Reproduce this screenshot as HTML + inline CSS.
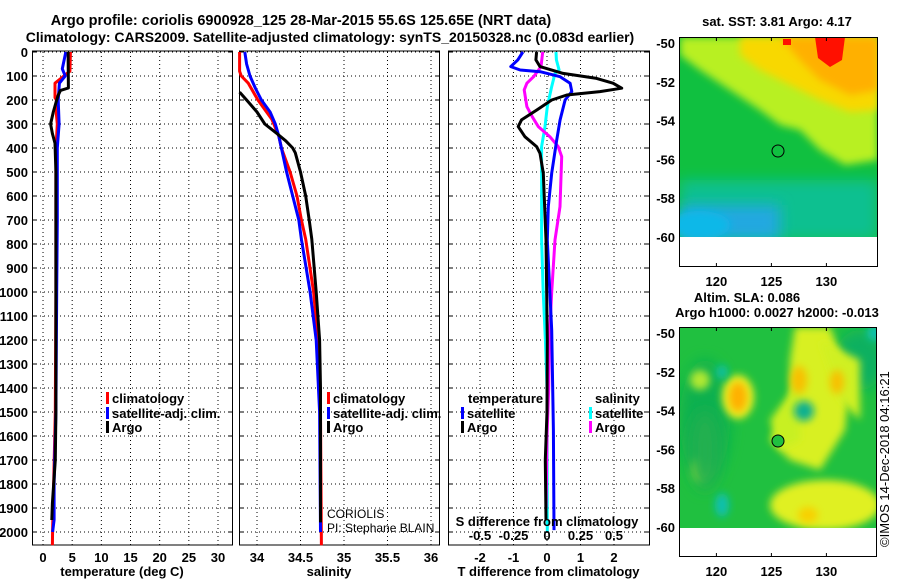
<!DOCTYPE html>
<html><head><meta charset="utf-8"><style>
body{margin:0;background:#fff}
svg{display:block;font-family:"Liberation Sans",Arial,sans-serif}
.b{font-weight:bold;font-size:13px}
</style></head><body>
<svg id="fig" width="900" height="580" viewBox="0 0 900 580" xmlns="http://www.w3.org/2000/svg">
<defs>
<filter id="bl" x="-50%" y="-50%" width="200%" height="200%"><feGaussianBlur stdDeviation="7"/></filter>
<filter id="bl2" x="-50%" y="-50%" width="200%" height="200%"><feGaussianBlur stdDeviation="4"/></filter>
<clipPath id="c1"><rect x="680" y="37" width="198" height="200"/></clipPath>
<clipPath id="c2"><rect x="680" y="327" width="197" height="201"/></clipPath>
</defs>
<text x="301" y="25" text-anchor="middle" style="font-weight:bold;font-size:14.5px">Argo profile: coriolis 6900928_125 28-Mar-2015 55.6S 125.65E (NRT data)</text>
<text x="330" y="42" text-anchor="middle" style="font-weight:bold;font-size:14px">Climatology: CARS2009. Satellite-adjusted climatology: synTS_20150328.nc (0.083d earlier)</text>
<g id="plots"></g>

<!-- Top map -->
<g>
<g clip-path="url(#c1)">
<rect x="680" y="37" width="198" height="200" fill="#10c040"/>
<rect x="680" y="180" width="198" height="60" fill="#10c090" filter="url(#bl)"/>
<rect x="680" y="205" width="100" height="35" fill="#20a8e0" filter="url(#bl)"/>
<ellipse cx="700" cy="225" rx="30" ry="14" fill="#10b8e8" filter="url(#bl2)"/>
<path d="M680 37 H878 V160 L845 165 L820 150 L800 130 L780 125 L760 110 L730 90 L700 70 L680 55 Z" fill="#b8f020" filter="url(#bl2)"/>
<path d="M740 37 H878 V110 L850 112 L820 100 L790 85 L760 70 L740 55 Z" fill="#f8d800" filter="url(#bl2)"/>
<path d="M780 37 H878 V90 L850 95 L820 80 L800 60 Z" fill="#ffb000" filter="url(#bl2)"/>
<path d="M815 37 H845 L842 60 L830 67 L818 58 Z" fill="#ff1000"/>
<rect x="783" y="39" width="8" height="6" fill="#ff1000"/>
</g>
<circle cx="778" cy="151" r="6" fill="none" stroke="#000" stroke-width="1"/>
<rect x="679.5" y="37.5" width="198" height="229" fill="none" stroke="#000"/>
<text x="777" y="26" text-anchor="middle" class="b">sat. SST: 3.81 Argo: 4.17</text>
<g id="m1ax"></g>
</g>

<!-- Bottom map -->
<g>
<g clip-path="url(#c2)">
<rect x="680" y="327" width="197" height="201" fill="#20c040"/>
<ellipse cx="705" cy="420" rx="25" ry="60" fill="#10b050" filter="url(#bl)"/>
<ellipse cx="860" cy="360" rx="25" ry="30" fill="#10b060" filter="url(#bl)"/>
<path d="M795 327 L830 327 L850 380 L845 430 L820 470 L790 460 L770 440 L790 400 L790 360 Z" fill="#d8f020" filter="url(#bl2)"/>
<path d="M770 420 L800 380 L800 440 L780 450 Z" fill="#c8f020" filter="url(#bl2)"/>
<path d="M820 340 L860 360 L860 420 L840 400 Z" fill="#d0f020" filter="url(#bl2)"/>
<ellipse cx="825" cy="505" rx="55" ry="25" fill="#e0f020" filter="url(#bl2)"/>
<ellipse cx="700" cy="380" rx="10" ry="10" fill="#b0e830" filter="url(#bl2)"/>
<ellipse cx="700" cy="470" rx="8" ry="12" fill="#a0e030" filter="url(#bl2)"/>
<ellipse cx="738" cy="397" rx="16" ry="22" fill="#e8f020" filter="url(#bl2)"/>
<ellipse cx="738" cy="397" rx="9" ry="15" fill="#ffb000" filter="url(#bl2)"/>
<ellipse cx="799" cy="380" rx="8" ry="14" fill="#f8c000" filter="url(#bl2)"/>
<ellipse cx="837" cy="382" rx="7" ry="12" fill="#f8c000" filter="url(#bl2)"/>
<ellipse cx="808" cy="515" rx="10" ry="8" fill="#f8d000" filter="url(#bl2)"/>
<ellipse cx="722" cy="372" rx="6" ry="7" fill="#10c0a0" filter="url(#bl2)"/>
<ellipse cx="804" cy="411" rx="10" ry="10" fill="#10b090" filter="url(#bl2)"/>
<ellipse cx="722" cy="505" rx="7" ry="12" fill="#10c0b0" filter="url(#bl2)"/>
<ellipse cx="875" cy="333" rx="8" ry="8" fill="#10c0b0" filter="url(#bl2)"/>
<ellipse cx="705" cy="450" rx="15" ry="40" fill="#20b050" filter="url(#bl)"/>
</g>
<circle cx="778" cy="441" r="6" fill="#20c040" stroke="#000" stroke-width="1"/>
<rect x="679.5" y="327.5" width="197" height="229" fill="none" stroke="#000"/>
<text x="747" y="302" text-anchor="middle" class="b">Altim. SLA: 0.086</text>
<text x="777" y="317" text-anchor="middle" class="b">Argo h1000: 0.0027 h2000: -0.013</text>
<g id="m2ax"></g>
</g>
<text transform="translate(889,547) rotate(-90)" style="font-size:13px">©IMOS 14-Dec-2018 04:16:21</text>
</svg>
<script>
const depthTicks=[0,100,200,300,400,500,600,700,800,900,1000,1100,1200,1300,1400,1500,1600,1700,1800,1900,2000];
const tempTicks=[0,5,10,15,20,25,30];
const salTicks=[34,34.5,35,35.5,36];
const tdiffTicks=[-2,-1,0,1,2];
const sdiffTicks=[-0.5,-0.25,0,0.25,0.5];
// Temperature profiles
const tClimDepth=[0,80,130,190,200,260,300,370,500,1000,1500,1990,2055];
const tClimVal=[4.7,4.6,2.06,2.06,2.3,2.3,2.45,2.3,2.2,2.2,2.1,1.65,1.6];
const tSatDepth=[0,70,100,130,200,300,400,700,1000,1500,1800,1950,2000];
const tSatVal=[3.9,3.3,3.8,2.8,2.6,2.75,2.45,2.45,2.35,2.2,1.9,1.9,1.65];
const tArgoDepth=[0,150,160,180,200,250,300,340,380,500,1000,1500,1700,1880,1950];
const tArgoVal=[4.3,4.35,3.0,2.6,2.35,1.77,1.3,1.6,2.05,2.2,2.2,2.2,2.1,1.6,1.5];
// Salinity profiles
const sClimDepth=[0,80,100,130,200,280,350,400,500,600,700,780,1000,1200,1500,2055];
const sClimVal=[33.8,33.8,33.82,33.9,34.01,34.17,34.25,34.28,34.38,34.46,34.51,34.56,34.65,34.7,34.73,34.74];
const sSatDepth=[0,50,100,150,200,250,300,350,400,500,600,700,780,1000,1200,1500,2000];
const sSatVal=[33.86,33.88,33.92,33.98,34.05,34.15,34.21,34.25,34.28,34.34,34.41,34.48,34.51,34.61,34.68,34.72,34.73];
const sArgoDepth=[167,200,250,300,340,370,400,420,500,600,700,780,1000,1200,1400,1960];
const sArgoVal=[33.8,33.88,34.0,34.09,34.23,34.33,34.41,34.44,34.5,34.56,34.6,34.63,34.68,34.72,34.73,34.73];
// Differences
const dTSatDepth=[0,33,61,75,82,103,130,165,200,283,367,505,644,783,1158,1575,1992];
const dTSatVal=[-0.72,-0.87,-1.08,-0.8,-0.2,0.39,0.69,0.74,0.54,0.39,0.29,0.14,0.04,0.01,0.14,0.19,0.21];
const dTArgoDepth=[0,33,61,89,110,130,151,165,179,200,242,283,311,353,394,422,505,783,1200,1500,1700,1950];
const dTArgoVal=[-0.31,-0.33,-0.21,0.48,1.48,1.97,2.23,1.58,0.59,0.14,-0.31,-0.76,-0.86,-0.66,-0.31,-0.21,-0.11,-0.03,0.01,0,-0.05,-0.03];
const dSSatDepth=[0,33,75,89,144,228,311,394,505,783,1000,1200,1400,2000];
const dSSatVal=[0.067,0.07,0.09,0.06,0.035,0.002,-0.015,-0.04,-0.04,-0.04,-0.028,-0.012,0,0.002];
const dSArgoDepth=[0,61,103,130,158,228,270,311,353,394,436,644,783,1000,1200,1400,1600,1900];
const dSArgoVal=[-0.032,-0.045,-0.1,-0.15,-0.17,-0.15,-0.11,-0.065,0.022,0.084,0.11,0.097,0.06,0.035,0.017,0.013,0,-0.007];
const latTicks=[-50,-52,-54,-56,-58,-60];
const lonTicks=[120,125,130];

const NS='http://www.w3.org/2000/svg';
const root=document.getElementById('plots');
function mk(tag,attrs,parent){const e=document.createElementNS(NS,tag);for(const k in attrs)e.setAttribute(k,attrs[k]);(parent||root).appendChild(e);return e;}
const yD=d=>52+d*0.24;
const TOP=52,BOT=545;
const panels=[
 {x0:32,x1:232,vmin:-1.89,vmax:32.4,ticks:tempTicks,label:'temperature (deg C)',name:'temperature-panel'},
 {x0:239,x1:439,vmin:33.793,vmax:36.092,ticks:salTicks,label:'salinity',name:'salinity-panel'},
 {x0:448,x1:649,vmin:-2.955,vmax:3.045,ticks:tdiffTicks,label:'T difference from climatology',name:'difference-panel'}
];
panels.forEach(p=>{p.sx=v=>p.x0+(v-p.vmin)/(p.vmax-p.vmin)*(p.x1-p.x0);});
panels.forEach((p,i)=>{
 const g=mk('g',{});
 
 
 depthTicks.forEach(d=>{
  const l=mk('line',{x1:p.x0,x2:p.x1,y1:yD(d),y2:yD(d),stroke:'#000','stroke-dasharray':'1,3'},g);
  
  
  mk('line',{x1:p.x0,x2:p.x0+4,y1:yD(d),y2:yD(d),stroke:'#000'},g);
  mk('line',{x1:p.x1-4,x2:p.x1,y1:yD(d),y2:yD(d),stroke:'#000'},g);
 });
 p.ticks.forEach(v=>{
  const x=p.sx(v);
  const l=mk('line',{x1:x,x2:x,y1:TOP,y2:BOT,stroke:'#000','stroke-dasharray':'1,3'},g);
  
  
  const t=mk('text',{x:x,y:562,'text-anchor':'middle',class:'b'},g);
  t.textContent=String(v);
  
  
 });
 mk('rect',{x:p.x0+0.5,y:TOP-1,width:p.x1-p.x0,height:BOT-TOP+1,fill:'none',stroke:'#000'},g);
 const xl=mk('text',{x:(p.x0+p.x1)/2+(i==2?0:-10),y:576,'text-anchor':'middle',class:'b'},g);
 xl.textContent=p.label;
 
 
});
depthTicks.forEach(d=>{
 const t=mk('text',{x:28,y:yD(d)+5,'text-anchor':'end',class:'b'});
 t.textContent=String(d);
 
 
});
function line(p,depths,vals,color,name,scale){
 const pts=depths.map((d,i)=>p.sx(vals[i]*(scale||1)).toFixed(1)+','+yD(d).toFixed(1)).join(' ');
 const e=mk('polyline',{points:pts,fill:'none',stroke:color,'stroke-width':3,'stroke-linejoin':'round'});
 
 
}
line(panels[0],tClimDepth,tClimVal,'#ff0000','temp-climatology-line');
line(panels[0],tSatDepth,tSatVal,'#0000ff','temp-satellite-line');
line(panels[0],tArgoDepth,tArgoVal,'#000000','temp-argo-line');
line(panels[1],sClimDepth,sClimVal,'#ff0000','sal-climatology-line');
line(panels[1],sSatDepth,sSatVal,'#0000ff','sal-satellite-line');
line(panels[1],sArgoDepth,sArgoVal,'#000000','sal-argo-line');
line(panels[2],dSSatDepth,dSSatVal,'#00ffff','sdiff-satellite-line',4);
line(panels[2],dSArgoDepth,dSArgoVal,'#ff00ff','sdiff-argo-line',4);
line(panels[2],dTSatDepth,dTSatVal,'#0000ff','tdiff-satellite-line');
line(panels[2],dTArgoDepth,dTArgoVal,'#000000','tdiff-argo-line');
sdiffTicks.forEach(v=>{
 const t=mk('text',{x:panels[2].sx(v*4),y:540,'text-anchor':'middle',class:'b'});
 t.textContent=String(v);
 
 
});
const st=mk('text',{x:547,y:526,'text-anchor':'middle',class:'b'});
st.textContent='S difference from climatology';


function leg(x,y,color,label,name){
 const g=mk('g',{});
 
 
 mk('rect',{x:x,y:y-6,width:3,height:12,fill:color},g);
 const t=mk('text',{x:x+6,y:y+5,class:'b'},g);t.textContent=label;
}
leg(106,398,'#ff0000','climatology','legend-climatology');
leg(106,413,'#0000ff','satellite-adj. clim.','legend-satellite-adj');
leg(106,427,'#000','Argo','legend-argo');
leg(327,398,'#ff0000','climatology','legend-climatology');
leg(327,413,'#0000ff','satellite-adj. clim.','legend-satellite-adj');
leg(327,427,'#000','Argo','legend-argo');
const th=mk('text',{x:468,y:403,class:'b'});th.textContent='temperature';


const sh=mk('text',{x:595,y:403,class:'b'});sh.textContent='salinity';


leg(461,413,'#0000ff','satellite','legend-t-satellite');
leg(461,427,'#000','Argo','legend-t-argo');
leg(589,413,'#00ffff','satellite','legend-s-satellite');
leg(589,427,'#ff00ff','Argo','legend-s-argo');
const c1=mk('text',{x:327,y:518,style:'font-size:12px'});c1.textContent='CORIOLIS';


const c2=mk('text',{x:327,y:532,style:'font-size:12px'});c2.textContent='PI: Stephane BLAIN';


function mapAxes(id,latY0,frameTop,frameBot){
 const g=document.getElementById(id);
 const lx=v=>679+(v-116.6)*11;
 const ly=v=>latY0+(-50-v)*19.4;
 latTicks.forEach(v=>{
  const t=mk('text',{x:675,y:ly(v)+5,'text-anchor':'end',class:'b'},g);
  t.textContent=String(v);
  
  
 });
 lonTicks.forEach(v=>{
  mk('line',{x1:lx(v),x2:lx(v),y1:frameBot,y2:frameBot-4,stroke:'#000'},g);
  mk('line',{x1:lx(v),x2:lx(v),y1:frameTop,y2:frameTop+4,stroke:'#000'},g);
  const t=mk('text',{x:lx(v),y:frameBot+19,'text-anchor':'middle',class:'b'},g);
  t.textContent=String(v);
  
  
 });
}
mapAxes('m1ax',43,37,267);
mapAxes('m2ax',333,327,557);
</script>
</body></html>
